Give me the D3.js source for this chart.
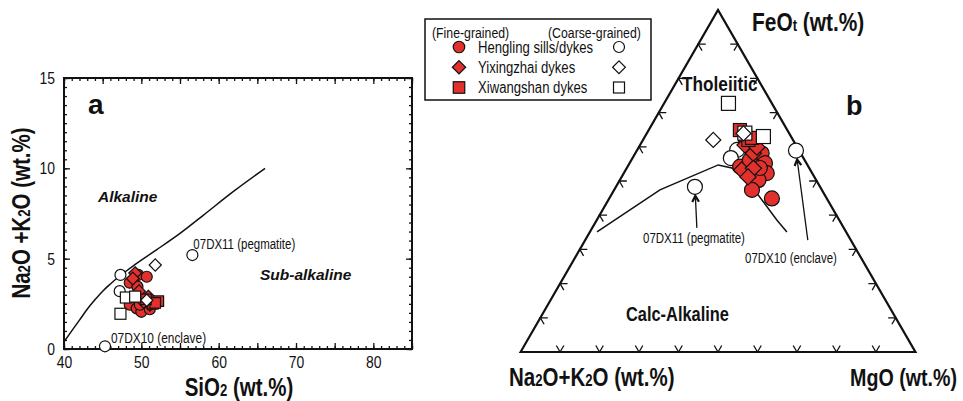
<!DOCTYPE html>
<html>
<head>
<meta charset="utf-8">
<script src="https://cdn.jsdelivr.net/npm/d3@7/dist/d3.min.js"></script>
<style>
  body { margin: 0; background: #fff; }
  svg { display: block; }
  text { font-family: "Liberation Sans", Arial, sans-serif; fill: #111; }
</style>
</head>
<body>
<svg id="chart" width="963" height="401"></svg>
<script>
// ---- panel a : SiO2 vs Na2O+K2O ----
const xTicks = d3.range(40, 86, 5);
const yTicks = d3.range(0, 16, 5);
const tasBoundary = [[40, 0.4], [41, 1.0], [42, 1.6], [43, 2.2], [44, 2.72], [45, 3.2], [46, 3.6],
                     [47, 3.97], [48, 4.3], [49, 4.62], [50, 4.92], [52, 5.5], [55, 6.4], [58, 7.4],
                     [62, 8.75], [66, 10]];
const tasFineCircle = [[48.5, 3.67], [49.6, 4.1], [50.7, 4.0], [49.5, 3.45], [48.5, 2.45], [49.4, 2.25],
                       [50.0, 2.06], [51.1, 2.2], [49.8, 2.45], [49.0, 2.9]];
const tasFineDiamond = [[49.2, 4.2], [50.9, 2.9], [51.1, 2.45], [49.7, 3.2], [50.3, 2.6], [48.9, 3.9]];
const tasFineSquare = [[52.2, 2.65], [51.5, 2.5], [51.8, 2.55], [50.6, 2.75]];
const tasCoarseCircle = [[56.6, 5.2], [45.3, 0.15], [47.3, 4.1], [47.2, 3.2]];
const tasCoarseDiamond = [[51.8, 4.65], [50.7, 2.7]];
const tasCoarseSquare = [[48.0, 2.85], [49.2, 2.9], [47.3, 1.95]];

// ---- panel b : AFM, values as [A, F, M] in % ----
const afmBoundary = [[63.1, 35.1, 1.8], [41.0, 47.4, 11.6], [22.6, 54.7, 22.7], [19.6, 53.8, 26.6],
                     [17.5, 50.3, 32.2], [15.8, 38.6, 45.6], [15.0, 35.1, 49.9]];
const afmFineCircle = [[9.9, 58.1, 32.0], [10.5, 55.2, 34.3], [11.5, 52.3, 36.2], [14.6, 50.3, 35.1],
                       [17.7, 47.4, 34.9], [13.9, 44.9, 41.2], [17.3, 54.2, 28.5], [13.9, 56.1, 30.0],
                       [12.5, 53.8, 33.7]];
const afmFineDiamond = [[12.0, 58.1, 29.9], [17.4, 53.2, 29.4], [14.2, 53.7, 32.1], [12.9, 60.5, 26.6],
                        [16.8, 51.2, 32.0], [10.2, 59.9, 29.9]];
const afmFineSquare = [[12.0, 64.9, 23.1], [11.4, 63.5, 25.1], [11.3, 62.0, 26.7], [10.1, 62.6, 27.3]];
const afmCoarseCircle = [[31.7, 48.3, 20.0], [0.8, 58.9, 40.3], [15.6, 59.1, 25.3], [18.4, 56.7, 24.9]];
const afmCoarseDiamond = [[20.2, 62.0, 17.8], [11.6, 63.9, 24.5]];
const afmCoarseSquare = [[11.0, 72.7, 16.3], [7.0, 63.0, 30.0], [11.2, 64.0, 24.8]];
const afmArrows = [
  { tail: [37.2, 36.3, 26.5], target: [31.7, 48.3, 20.0] },
  { tail: [10.9, 32.7, 56.4], target: [0.8, 58.9, 40.3] }
];

const legendRows = [
  { label: "Hengling sills/dykes", type: "circle" },
  { label: "Yixingzhai dykes", type: "diamond" },
  { label: "Xiwangshan dykes", type: "square" }
];

const RED = "#e2302d";
const NARROW = 0.82;   // the figure uses a condensed face
const svg = d3.select("#chart");

function marker(g, type, px, py, s, fill) {
  if (type === "circle") {
    g.append("circle").attr("cx", px).attr("cy", py).attr("r", s / 2)
      .attr("fill", fill).attr("stroke", "#111").attr("stroke-width", 1.2);
  } else if (type === "square") {
    g.append("rect").attr("x", px - s / 2).attr("y", py - s / 2).attr("width", s).attr("height", s)
      .attr("fill", fill).attr("stroke", "#111").attr("stroke-width", 1.2);
  } else {
    const h = s * 0.58;
    g.append("path").attr("d", `M${px},${py - h}L${px + h},${py}L${px},${py + h}L${px - h},${py}Z`)
      .attr("fill", fill).attr("stroke", "#111").attr("stroke-width", 1.2);
  }
}

// condensed text, placed at (tx, ty)
function ntext(g, tx, ty, size, extra = "") {
  return g.append("text")
    .attr("transform", `translate(${tx},${ty}) ${extra} scale(${NARROW},1)`)
    .attr("font-size", size);
}

// ================= panel a =================
const x = d3.scaleLinear().domain([40, 85]).range([64, 412]);
const y = d3.scaleLinear().domain([0, 15]).range([349, 78]);
const ga = svg.append("g");

const noDomain = g => g.select(".domain").remove();
const fmtX = d => (d % 10 === 0 ? d : "");

ga.append("g").attr("transform", `translate(0,${y(0)})`)
  .call(d3.axisBottom(x).tickValues(d3.range(40, 86, 1)).tickSize(-3).tickFormat(""))
  .call(noDomain);
ga.append("g").attr("class", "lab").attr("transform", `translate(0,${y(0)})`)
  .call(d3.axisBottom(x).tickValues(xTicks).tickSize(-6).tickPadding(7).tickFormat(fmtX))
  .call(noDomain);
ga.append("g").attr("transform", `translate(0,${y(15)})`)
  .call(d3.axisTop(x).tickValues(d3.range(40, 86, 1)).tickSize(-3).tickFormat(""))
  .call(noDomain);
ga.append("g").attr("transform", `translate(0,${y(15)})`)
  .call(d3.axisTop(x).tickValues(xTicks).tickSize(-6).tickFormat(""))
  .call(noDomain);
ga.append("g").attr("transform", `translate(${x(40)},0)`)
  .call(d3.axisLeft(y).tickValues(d3.range(0, 15.01, 0.5)).tickSize(-3).tickFormat(""))
  .call(noDomain);
ga.append("g").attr("class", "lab").attr("transform", `translate(${x(40)},0)`)
  .call(d3.axisLeft(y).tickValues(yTicks).tickSize(-6).tickPadding(11))
  .call(noDomain);
ga.append("g").attr("transform", `translate(${x(85)},0)`)
  .call(d3.axisRight(y).tickValues(d3.range(0, 15.01, 0.5)).tickSize(-3).tickFormat(""))
  .call(noDomain);
ga.append("g").attr("transform", `translate(${x(85)},0)`)
  .call(d3.axisRight(y).tickValues(yTicks).tickSize(-6).tickFormat(""))
  .call(noDomain);

ga.selectAll(".tick line").attr("stroke", "#111").attr("stroke-width", 1.3);
ga.selectAll(".lab .tick text").attr("font-size", 17).attr("fill", "#222")
  .attr("transform", `scale(${NARROW},1)`)
  .style("font-family", "'Liberation Sans', Arial, sans-serif");

ga.append("rect")
  .attr("x", x(40)).attr("y", y(15))
  .attr("width", x(85) - x(40)).attr("height", y(0) - y(15))
  .attr("fill", "none").attr("stroke", "#111").attr("stroke-width", 2);

ga.append("path").datum(tasBoundary)
  .attr("fill", "none").attr("stroke", "#111").attr("stroke-width", 1.5)
  .attr("d", d3.line().x(d => x(d[0])).y(d => y(d[1])).curve(d3.curveCatmullRom));

const pa = ga.append("g");
tasCoarseCircle.forEach(d => marker(pa, "circle", x(d[0]), y(d[1]), 11, "#fff"));
tasFineCircle.forEach(d => marker(pa, "circle", x(d[0]), y(d[1]), 11, RED));
tasFineDiamond.forEach(d => marker(pa, "diamond", x(d[0]), y(d[1]), 11, RED));
tasFineSquare.forEach(d => marker(pa, "square", x(d[0]), y(d[1]), 10.5, RED));
tasCoarseSquare.forEach(d => marker(pa, "square", x(d[0]), y(d[1]), 11, "#fff"));
tasCoarseDiamond.forEach(d => marker(pa, "diamond", x(d[0]), y(d[1]), 10.5, "#fff"));

ga.append("text").attr("x", 88).attr("y", 114).attr("font-size", 28)
  .attr("font-weight", "bold").text("a");
ga.append("text").attr("x", 98).attr("y", 202).attr("font-size", 15.5)
  .attr("font-weight", "bold").attr("font-style", "italic").text("Alkaline");
ga.append("text").attr("x", 260).attr("y", 280).attr("font-size", 15.5)
  .attr("font-weight", "bold").attr("font-style", "italic").text("Sub-alkaline");
ntext(ga, x(56.6) + 1, 249, 14).attr("fill", "#333").text("07DX11 (pegmatite)");
ntext(ga, x(45.3) + 6, 343, 14.5).attr("fill", "#333").text("07DX10 (enclave)");

const yl = ntext(ga, 30, 213, 25, "rotate(-90)")
  .attr("text-anchor", "middle").attr("font-weight", "bold");
yl.append("tspan").text("Na");
yl.append("tspan").attr("font-size", 16).text("2");
yl.append("tspan").text("O +K");
yl.append("tspan").attr("font-size", 16).text("2");
yl.append("tspan").text("O (wt.%)");

const xl = ntext(ga, 239, 396, 25).attr("text-anchor", "middle").attr("font-weight", "bold");
xl.append("tspan").text("SiO");
xl.append("tspan").attr("font-size", 16).text("2");
xl.append("tspan").text(" (wt.%)");

// ================= legend =================
const gl = svg.append("g");
gl.append("rect").attr("x", 425).attr("y", 19).attr("width", 226).attr("height", 81)
  .attr("fill", "#fff").attr("stroke", "#111").attr("stroke-width", 1.5);
ntext(gl, 432, 37.5, 15).text("(Fine-grained)");
ntext(gl, 548, 37.5, 15).text("(Coarse-grained)");
const rowY = d3.scalePoint().domain(legendRows.map(d => d.label)).range([47, 87.5]);
legendRows.forEach(r => {
  const cy = rowY(r.label);
  marker(gl, r.type, 459, cy, 11.5, RED);
  marker(gl, r.type, 619, cy, 11, "#fff");
  ntext(gl, 478, cy + 5.5, 16).text(r.label);
});

// ================= panel b (AFM ternary) =================
const tf = d3.scaleLinear().domain([0, 100]).range([352, 10]);        // F -> vertical
const th = d3.scaleLinear().domain([0, 100]).range([520.6, 915.4]);  // M + F/2 -> horizontal
const proj = d => [th(d[2] + d[1] / 2), tf(d[1])];

const gb = svg.append("g");
const corners = [[100, 0, 0], [0, 100, 0], [0, 0, 100]].map(proj);
gb.append("path").attr("d", d3.line()(corners) + "Z")
  .attr("fill", "none").attr("stroke", "#111").attr("stroke-width", 2.2).attr("stroke-linejoin", "miter");

// chevron ticks every 10 %
const s3 = Math.sqrt(3) / 2, arm = 7.5;
const tickSides = [
  { at: v => [100 - v, 0, v], dirs: [[-0.5, -s3], [0.5, -s3]] },
  { at: v => [100 - v, v, 0], dirs: [[1, 0], [0.5, s3]] },
  { at: v => [0, v, 100 - v], dirs: [[-1, 0], [-0.5, s3]] }
];
tickSides.forEach(side => {
  d3.range(10, 100, 10).forEach(v => {
    const [px, py] = proj(side.at(v));
    const [d1, d2] = side.dirs;
    gb.append("path")
      .attr("d", `M${px + d1[0] * arm},${py + d1[1] * arm}L${px},${py}L${px + d2[0] * arm},${py + d2[1] * arm}`)
      .attr("fill", "none").attr("stroke", "#111").attr("stroke-width", 1.3);
  });
});

gb.append("path").datum(afmBoundary.map(proj))
  .attr("fill", "none").attr("stroke", "#111").attr("stroke-width", 1.5)
  .attr("d", d3.line());

// arrows to the labelled samples
afmArrows.forEach(a => {
  const [x0, y0] = proj(a.tail), [x1, y1] = proj(a.target);
  const len = Math.hypot(x1 - x0, y1 - y0);
  const ux = (x1 - x0) / len, uy = (y1 - y0) / len;
  const tx = x1 - ux * 9, ty = y1 - uy * 9;
  gb.append("line").attr("x1", x0).attr("y1", y0).attr("x2", tx).attr("y2", ty)
    .attr("stroke", "#111").attr("stroke-width", 1.3);
  const hx = -ux * 7, hy = -uy * 7, c = Math.cos(0.5), s = Math.sin(0.5);
  gb.append("path")
    .attr("d", `M${tx + hx * c - hy * s},${ty + hx * s + hy * c}L${tx},${ty}L${tx + hx * c + hy * s},${ty - hx * s + hy * c}`)
    .attr("fill", "none").attr("stroke", "#111").attr("stroke-width", 2.2);
});

const pb = gb.append("g");
afmCoarseCircle.forEach(d => marker(pb, "circle", ...proj(d), 15, "#fff"));
afmFineCircle.forEach(d => marker(pb, "circle", ...proj(d), 15, RED));
afmFineDiamond.forEach(d => marker(pb, "diamond", ...proj(d), 14, RED));
afmFineSquare.forEach(d => marker(pb, "square", ...proj(d), 13, RED));
afmCoarseSquare.forEach(d => marker(pb, "square", ...proj(d), 14, "#fff"));
afmCoarseDiamond.forEach(d => marker(pb, "diamond", ...proj(d), 13, "#fff"));

const fe = ntext(gb, 752, 31, 25.5).attr("font-weight", "bold");
fe.append("tspan").text("FeO");
fe.append("tspan").attr("font-size", 16).text("t");
fe.append("tspan").text("  (wt.%)");

gb.append("text").attr("x", 846).attr("y", 115).attr("font-size", 27)
  .attr("font-weight", "bold").text("b");
ntext(gb, 682, 91, 21).attr("font-weight", "bold").text("Tholeiitic");
ntext(gb, 626, 321, 20).attr("font-weight", "bold").text("Calc-Alkaline");
ntext(gb, 643, 243, 14).attr("fill", "#333").text("07DX11 (pegmatite)");
ntext(gb, 745, 263, 14).attr("fill", "#333").text("07DX10 (enclave)");

const al = ntext(gb, 509, 386, 25).attr("font-weight", "bold");
al.append("tspan").text("Na");
al.append("tspan").attr("font-size", 16).text("2");
al.append("tspan").text("O+K");
al.append("tspan").attr("font-size", 16).text("2");
al.append("tspan").text("O (wt.%)");
ntext(gb, 850, 386, 24).attr("font-weight", "bold").text("MgO (wt.%)");
</script>
</body>
</html>
